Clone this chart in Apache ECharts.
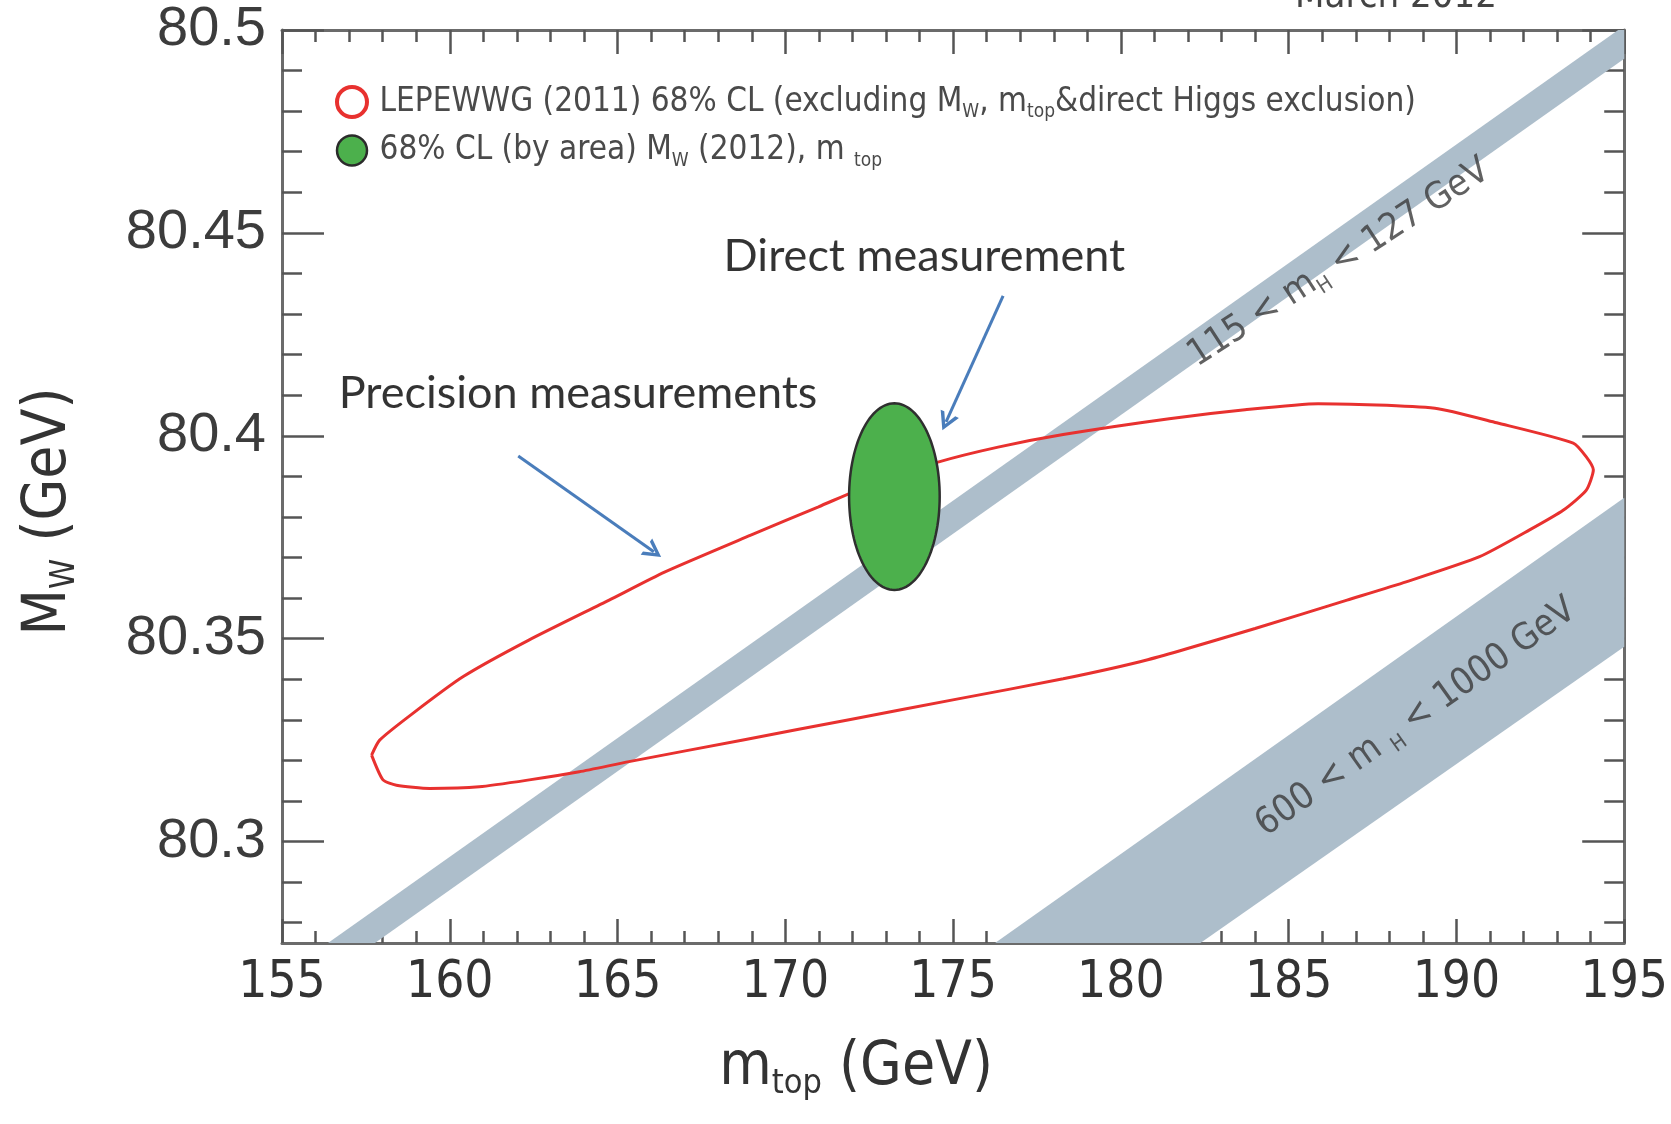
<!DOCTYPE html>
<html><head><meta charset="utf-8">
<script src="https://cdn.jsdelivr.net/npm/echarts@6/dist/echarts.min.js"></script>
<style>html,body{margin:0;padding:0;background:#fff}#c{width:1671px;height:1124px}</style>
</head><body><div id="c"></div>
<script>
// ---------- data ----------
const xMajorTicks = [155, 160, 165, 170, 175, 180, 185, 190, 195];
const xMinorTicks = [156,157,158,159,161,162,163,164,166,167,168,169,171,172,173,174,176,177,178,179,181,182,183,184,186,187,188,189,191,192,193,194];
const yMajorTicks = [80.3, 80.35, 80.4, 80.45, 80.5];
const yMinorTicks = [80.28,80.29,80.31,80.32,80.33,80.34,80.36,80.37,80.38,80.39,80.41,80.42,80.43,80.44,80.46,80.47,80.48,80.49];

// 115 < mH < 127 GeV band (polygon vertices, GeV / GeV)
const bandLowMH = [[156.37, 80.275], [194.82, 80.5], [195, 80.5], [195, 80.4929], [157.77, 80.275]];
// 600 < mH < 1000 GeV band
const bandHighMH = [[176.25, 80.275], [195, 80.3847], [195, 80.348], [182.37, 80.275]];

// LEPEWWG (2011) 68% CL contour (closed)
const lepewwgContour = [
  [157.67, 80.3213], [157.91, 80.3250], [158.90, 80.3316], [160.39, 80.3406], [162.37, 80.3497],
  [164.75, 80.3595], [166.40, 80.3664], [168.97, 80.3755], [170.99, 80.3825], [172.50, 80.3878],
  [174.55, 80.3935], [176.34, 80.3972], [178.28, 80.4003], [181.44, 80.4042], [183.70, 80.4064],
  [185.88, 80.4079], [189.36, 80.4068], [191.20, 80.4032], [193.48, 80.3982], [193.87, 80.3948],
  [194.08, 80.3916], [193.87, 80.3866], [193.19, 80.3817], [192.18, 80.3768], [190.69, 80.3702],
  [188.50, 80.3640], [186.74, 80.3595], [184.00, 80.3525], [180.80, 80.3448], [178.28, 80.3401],
  [175.11, 80.3351], [171.94, 80.3301], [168.78, 80.3251], [165.34, 80.3197], [163.86, 80.3172],
  [162.37, 80.3152], [160.88, 80.3135], [159.40, 80.3131], [158.41, 80.3139], [158.01, 80.3152],
  [157.67, 80.3213]
];

// Direct measurement 68% CL ellipse: [centre mtop, centre MW, half-width mtop, half-height MW]
const directEllipse = [173.25, 80.385, 1.35, 0.023];

// annotation anchors [x, y]
const bandLowLabelPos = [186.5, 80.4425];
const bandHighLabelPos = [188.8, 80.3305];
const directLabelPos = [168.16, 80.4443];
const precisionLabelPos = [156.69, 80.4103];
const directArrow = [[176.49, 80.4345], [174.79, 80.4034]];
const precisionArrow = [[162.04, 80.395], [166.08, 80.3714]];

const RED_NAME = 'LEPEWWG (2011) 68% CL';
const GREEN_NAME = '68% CL (by area) MW (2012), mtop';

// ---------- chart ----------
const NARROW = '"Liberation Sans Narrow", "DejaVu Sans Condensed", "Arial Narrow", sans-serif';
const chart = echarts.init(document.getElementById('c'));
const frameLine = { show: true, onZero: false, lineStyle: { color: '#6b6b6b', width: 3 } };
const tickLine = { color: '#555', width: 2.5 };
const ELLIPSE_PATH = 'path://M0,50 A50,50 0 1 1 100,50 A50,50 0 1 1 0,50 Z';
const CHEVRON_PATH = 'path://M0,12 L6,0 L12,12 L9.6,12 L6,4.6 L2.4,12 Z';

function mkX(position, ticks, len, extra) {
  return Object.assign({
    type: 'value', position: position, min: 155, max: 195,
    axisLine: Object.assign({}, frameLine, { show: false }),
    axisTick: { show: true, inside: true, length: len, customValues: ticks, lineStyle: tickLine },
    axisLabel: { show: false, customValues: ticks },
    splitLine: { show: false }
  }, extra || {});
}
function mkY(position, ticks, len, extra) {
  return Object.assign({
    type: 'value', position: position, min: 80.275, max: 80.5,
    axisLine: Object.assign({}, frameLine, { show: false }),
    axisTick: { show: true, inside: true, length: len, customValues: ticks, lineStyle: tickLine },
    axisLabel: { show: false, customValues: ticks },
    splitLine: { show: false }
  }, extra || {});
}

const option = {
  animation: false,
  backgroundColor: '#fff',
  grid: { left: 282, right: 43, top: 30, bottom: 181, containLabel: false },
  graphic: [{
    type: 'text', left: 1295, top: -22, silent: true,
    style: { text: 'March 2012', font: '38px ' + NARROW, fill: '#444' }
  }],
  legend: {
    orient: 'vertical', left: 330, top: 80, itemWidth: 45, itemHeight: 30, itemGap: 12,
    selectedMode: false,
    data: [
      { name: RED_NAME, icon: ELLIPSE_PATH, itemStyle: { color: '#fff', borderColor: '#e8312f', borderWidth: 4 } },
      { name: GREEN_NAME, icon: ELLIPSE_PATH, itemStyle: { color: '#4cb04c', borderColor: '#2b2b2b', borderWidth: 2.5 } }
    ],
    formatter: function (name) {
      if (name === RED_NAME) return '{t|LEPEWWG (2011) 68% CL (excluding M}{s|W}{t|, m}{s|top}{t|&direct Higgs exclusion)}';
      return '{t|68% CL (by area) M}{s|W}{t| (2012), m }{s|top}';
    },
    textStyle: {
      rich: {
        t: { fontFamily: NARROW, fontSize: 33, color: '#4a4a4a', lineHeight: 40 },
        s: { fontFamily: NARROW, fontSize: 19, color: '#4a4a4a', lineHeight: 19, verticalAlign: 'bottom' }
      }
    }
  },
  xAxis: [
    mkX('bottom', xMajorTicks, 24, {
      axisLine: frameLine,
      axisLabel: { show: true, customValues: xMajorTicks, margin: 15, fontFamily: NARROW, fontSize: 51, color: '#333' },
      name: '{m|m}{s|top}{m| (GeV)}', nameLocation: 'middle', nameGap: 92,
      nameTextStyle: {
        padding: [0, 194, 0, 0],
        rich: {
          m: { fontFamily: NARROW, fontSize: 60, color: '#333', lineHeight: 66 },
          s: { fontFamily: NARROW, fontSize: 34, color: '#333', lineHeight: 34, verticalAlign: 'bottom' }
        }
      }
    }),
    mkX('bottom', xMinorTicks, 12),
    mkX('top', xMajorTicks, 24, { axisLine: frameLine }),
    mkX('top', xMinorTicks, 12)
  ],
  yAxis: [
    mkY('left', yMajorTicks, 42, {
      axisLine: frameLine,
      axisLabel: {
        show: true, customValues: yMajorTicks, margin: 16, fontFamily: '"Liberation Sans", Arial, sans-serif',
        fontSize: 56, color: '#3c3c3c', formatter: function (v) { return String(+(+v).toFixed(3)); }
      },
      name: '{m|M}{s|W}{m| (GeV)}', nameLocation: 'middle', nameGap: 200,
      nameTextStyle: {
        padding: [0, 50, 0, 0],
        rich: {
          m: { fontFamily: NARROW, fontSize: 60, color: '#333', lineHeight: 66 },
          s: { fontFamily: NARROW, fontSize: 34, color: '#333', lineHeight: 34, verticalAlign: 'bottom' }
        }
      }
    }),
    mkY('left', yMinorTicks, 20),
    mkY('right', yMajorTicks, 42, { axisLine: frameLine }),
    mkY('right', yMinorTicks, 20)
  ],
  series: [
    {
      type: 'custom', name: 'bands', silent: true, z: 1,
      data: [bandLowMH, bandHighMH].map(function (p, i) { return [p[0][0], p[0][1], i]; }),
      renderItem: function (params, api) {
        const poly = [bandLowMH, bandHighMH][api.value(2)];
        return {
          type: 'polygon',
          shape: { points: poly.map(function (pt) { return api.coord(pt); }) },
          style: { fill: '#adbecb', stroke: null }
        };
      }
    },
    {
      type: 'line', name: RED_NAME, data: lepewwgContour, showSymbol: false, smooth: 0.2,
      lineStyle: { color: '#e8312f', width: 3 }, itemStyle: { color: '#e8312f' }, z: 3, silent: true
    },
    {
      type: 'custom', name: GREEN_NAME, silent: true, z: 4,
      data: [directEllipse],
      renderItem: function (params, api) {
        const cx = api.value(0), cy = api.value(1), rx = api.value(2), ry = api.value(3);
        const pts = [];
        for (let i = 0; i < 120; i++) {
          const t = i / 120 * Math.PI * 2;
          pts.push(api.coord([cx + rx * Math.cos(t), cy + ry * Math.sin(t)]));
        }
        return { type: 'polygon', shape: { points: pts }, style: { fill: '#4cb04c', stroke: '#2f2f2f', lineWidth: 2.5 } };
      }
    },
    {
      type: 'scatter', name: 'bandLabels', silent: true, z: 5, symbolSize: 0,
      data: [
        { value: bandLowLabelPos, label: { formatter: '{t|115 < m}{s|H}{t| < 127 GeV}', rotate: 33 } },
        { value: bandHighLabelPos, label: { formatter: '{t|600 < m }{s|H}{t| < 1000 GeV}', rotate: 35.5 } }
      ],
      label: {
        show: true, position: 'inside',
        rich: {
          t: { fontFamily: NARROW, fontSize: 37, color: '#3a3a3a', lineHeight: 44 },
          s: { fontFamily: NARROW, fontSize: 21, color: '#3a3a3a', lineHeight: 21, verticalAlign: 'bottom' }
        }
      }
    },
    {
      type: 'scatter', name: 'notes', silent: true, z: 6, symbolSize: 0,
      data: [
        { value: directLabelPos, label: { formatter: 'Direct measurement' } },
        { value: precisionLabelPos, label: { formatter: 'Precision measurements' } }
      ],
      label: { show: true, position: 'inside', align: 'left', fontFamily: 'Lato, "Open Sans", sans-serif', fontSize: 45, color: '#000' },
      markLine: {
        silent: true, symbol: ['none', CHEVRON_PATH], symbolSize: [20, 18],
        label: { show: false },
        lineStyle: { color: '#4a7dbb', width: 3, type: 'solid' },
        itemStyle: { color: '#4a7dbb' },
        data: [
          [{ coord: directArrow[0] }, { coord: directArrow[1] }],
          [{ coord: precisionArrow[0] }, { coord: precisionArrow[1] }]
        ]
      }
    }
  ]
};
chart.setOption(option);
</script></body></html>
